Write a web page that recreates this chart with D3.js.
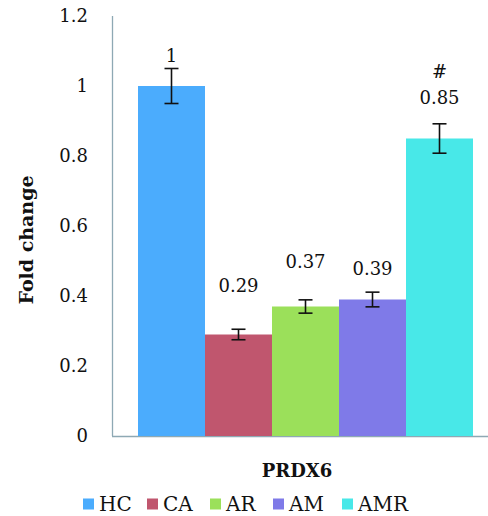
<!DOCTYPE html>
<html><head><meta charset="utf-8">
<script src="https://cdn.jsdelivr.net/npm/d3@7"></script>
<style>body{margin:0;background:#fff}</style>
</head><body>
<svg id="c" width="488" height="516"></svg>
<script>
const categories = ["HC","CA","AR","AM","AMR"];
const values = [1, 0.29, 0.37, 0.39, 0.85];
const errors = [0.05, 0.015, 0.019, 0.021, 0.042];
const valueLabels = ["1","0.29","0.37","0.39","0.85"];
const labelAt = [1.086, 0.429, 0.497, 0.477, 0.966];
const marks = ["","","","","#"];
const markAt = [0,0,0,0,1.04];
const colors = ["#4BACFD","#C0566E","#9BE05A","#7F7AE8","#48E8E8"];
const yTicks = [0,0.2,0.4,0.6,0.8,1,1.2];
const tickLabels = ["0","0.2","0.4","0.6","0.8","1","1.2"];

const svg = d3.select("#c");
const font = "'DejaVu Serif', serif";
const y = d3.scaleLinear().domain([0,1.2]).range([436,16]);
const x = d3.scaleBand().domain(categories).range([138,473]).padding(0);
const axisColor = "#8EA9B4";

// axes
svg.append("line").attr("x1",112.5).attr("x2",112.5).attr("y1",y(1.2)).attr("y2",y(0)).attr("stroke",axisColor).attr("stroke-width",1.3);
svg.append("line").attr("x1",112).attr("x2",488).attr("y1",y(0)+0.5).attr("y2",y(0)+0.5).attr("stroke",axisColor).attr("stroke-width",1.3);

svg.selectAll("text.tick").data(yTicks).enter().append("text")
  .style("font-family",font)
  .attr("x",88).attr("y",d=>y(d)).attr("dy","0.35em").attr("text-anchor","end")
  .attr("font-size",18).attr("fill","#111")
  .text((d,i)=>tickLabels[i]);

// bars
svg.selectAll("rect.bar").data(values).enter().append("rect")
  .attr("x",(d,i)=>x(categories[i])).attr("width",x.bandwidth())
  .attr("y",d=>y(d)).attr("height",d=>y(0)-y(d)).attr("fill",(d,i)=>colors[i]);

// error bars
const eb = svg.selectAll("g.err").data(values).enter().append("g")
  .attr("stroke","#111").attr("stroke-width",1.6);
eb.append("line").attr("x1",(d,i)=>x(categories[i])+x.bandwidth()/2).attr("x2",(d,i)=>x(categories[i])+x.bandwidth()/2)
  .attr("y1",(d,i)=>y(d+errors[i])).attr("y2",(d,i)=>y(d-errors[i]));
[1,-1].forEach(s=>{
  eb.append("line").attr("x1",(d,i)=>x(categories[i])+x.bandwidth()/2-7).attr("x2",(d,i)=>x(categories[i])+x.bandwidth()/2+7)
    .attr("y1",(d,i)=>y(d+s*errors[i])).attr("y2",(d,i)=>y(d+s*errors[i]));
});

// value labels
svg.selectAll("text.val").data(valueLabels).enter().append("text")
  .style("font-family",font)
  .attr("x",(d,i)=>x(categories[i])+x.bandwidth()/2).attr("y",(d,i)=>y(labelAt[i])).attr("dy","0.35em")
  .attr("text-anchor","middle").attr("font-size",18).attr("fill","#111").text(d=>d);
svg.selectAll("text.mark").data(marks.filter(m=>m)).enter().append("text")
  .style("font-family",font)
  .attr("x",x("AMR")+x.bandwidth()/2).attr("y",y(markAt[4])).attr("dy","0.35em")
  .attr("text-anchor","middle").attr("font-size",18).attr("fill","#111").text(d=>d);

// titles
svg.append("text").style("font-family",font).attr("x",297).attr("y",471).attr("dy","0.35em").attr("text-anchor","middle")
  .attr("font-weight","bold").attr("font-size",18).attr("fill","#111").text("PRDX6");
svg.append("text").style("font-family",font).attr("transform","translate(26,240) rotate(-90)").attr("dy","0.35em").attr("text-anchor","middle")
  .attr("font-weight","bold").attr("font-size",19).attr("fill","#111").text("Fold change");

// legend
const legX = [83,147,210,273,342];
const lg = svg.selectAll("g.leg").data(categories).enter().append("g")
  .attr("transform",(d,i)=>`translate(${legX[i]},504)`);
lg.append("rect").attr("x",0).attr("y",-5.5).attr("width",11).attr("height",11).attr("fill",(d,i)=>colors[i]);
lg.append("text").style("font-family",font).attr("x",16).attr("y",0).attr("dy","0.35em").attr("font-size",20).attr("fill","#111").text(d=>d);
</script>
</body></html>
